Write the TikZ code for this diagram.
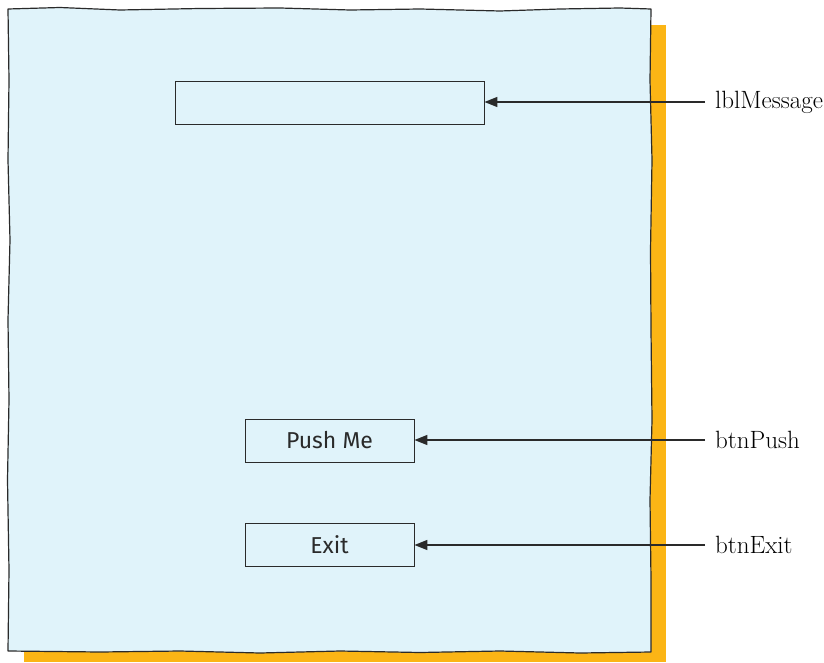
\documentclass[tikz,border=0pt]{standalone}
\usepackage{fontspec}
\newfontfamily\handfont{Fira Sans}
\usetikzlibrary{arrows.meta}
\definecolor{panelfill}{HTML}{E0F3FA}
\definecolor{shadoworange}{HTML}{FBB515}
\definecolor{inkdark}{HTML}{2A2A2A}
\tikzset{
  ctrlbox/.style={draw=inkdark, line width=0.9pt, fill=panelfill, inner sep=0pt},
  btntext/.style={font=\handfont\fontsize{23}{27}\selectfont, text=inkdark},
  callout/.style={anchor=west, inner xsep=10pt, inner ysep=0pt, font=\fontsize{25}{29}\selectfont, text=black},
  pointer/.style={draw=inkdark, line width=1.5pt, -{Stealth[length=13pt,width=10pt,inset=0pt]}}
}
\begin{document}
\begin{tikzpicture}[x=1pt,y=-1pt]
  \useasboundingbox (0,0) rectangle (824,663);
  % drop shadow of the form
  \fill[shadoworange] (24,25) rectangle (666,662);
  % the form, drawn with a slightly uneven hand-made outline
  \filldraw[fill=panelfill, draw=inkdark, line width=1.2pt, line join=round]
    (8,9) -- (60,7.5) -- (120,10) -- (200,8.5) -- (280,8) -- (350,10) -- (420,9)
    -- (500,11) -- (560,9) -- (620,8) -- (651,9)
    -- (650,80) -- (652,160) -- (650.5,250) -- (651,330) -- (652,420) -- (650,500)
    -- (651,580) -- (651,652)
    -- (580,653) -- (500,651) -- (420,652.5) -- (340,651) -- (260,653) -- (180,651)
    -- (100,652) -- (8,651)
    -- (9,570) -- (7.5,480) -- (9,400) -- (8,320) -- (10,240) -- (8,160) -- (9,80) -- cycle;
  % controls on the form
  \node[ctrlbox, minimum width=309pt, minimum height=43pt] (msg) at (329.5,102.5) {};
  \node[ctrlbox, minimum width=169pt, minimum height=43pt] (push) at (329.5,440.5) {};
  \node[ctrlbox, minimum width=169pt, minimum height=43pt] (exit) at (329.5,544.5) {};
  \node[btntext] (pushtxt) at (push.center) {Push Me};
  \node[btntext] (exittxt) at (exit.center) {Exit};
  % callout labels
  \node[callout] (lmsg) at (705,102) {lblMessage};
  \node[callout] (lpush) at (705,440) {btnPush};
  \node[callout] (lexit) at (705,545) {btnExit};
  \draw[pointer] (lmsg.west) -- (msg.east |- lmsg.west);
  \draw[pointer] (lpush.west) -- (push.east |- lpush.west);
  \draw[pointer] (lexit.west) -- (exit.east |- lexit.west);
\end{tikzpicture}
\end{document}
